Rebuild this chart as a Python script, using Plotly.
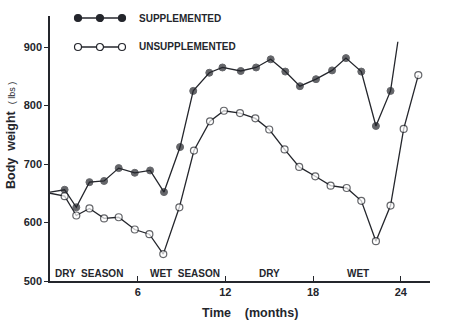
import plotly.graph_objects as go

# Data (months, body weight lbs)
sup_months = [0, 1.0, 1.8, 2.7, 3.7, 4.7, 5.8, 6.85, 7.8, 8.9, 9.8, 10.9, 11.8,
              13.05, 14.1, 15.1, 16.1, 17.1, 18.2, 19.3, 20.25, 21.3, 22.3, 23.3, 23.8]
sup_weight = [652, 656, 626, 669, 671, 693, 685, 689, 652, 729, 825, 856, 865,
              859, 865, 879, 858, 833, 845, 860, 881, 858, 765, 825, 909]

uns_months = [0, 1.0, 1.8, 2.7, 3.7, 4.7, 5.8, 6.8, 7.75, 8.85, 9.85, 10.95, 11.9,
              13.0, 14.05, 15.0, 16.05, 17.05, 18.15, 19.2, 20.3, 21.3, 22.3, 23.3, 24.2, 25.2]
uns_weight = [650, 645, 612, 624, 607, 609, 588, 580, 546, 626, 723, 773, 791,
              787, 778, 759, 725, 695, 679, 663, 659, 637, 568, 629, 760, 852]

season_labels = ["DRY  SEASON", "WET  SEASON", "DRY", "WET"]
season_pos = [2.65, 9.25, 15.05, 21.1]

x_ticks = [6, 12, 18, 24]
y_ticks = [500, 600, 700, 800, 900]

INK = "#24262c"
FONT = "Liberation Sans, Arial, sans-serif"

sup_sizes = [0] + [7] * (len(sup_months) - 2) + [0]
uns_sizes = [0] + [7] * (len(uns_months) - 1)

fig = go.Figure()
fig.add_trace(go.Scatter(
    x=sup_months, y=sup_weight, mode="lines+markers",
    line=dict(color=INK, width=1.3),
    marker=dict(size=sup_sizes, color=INK, line=dict(color=INK, width=1)),
    showlegend=False, cliponaxis=False))
fig.add_trace(go.Scatter(
    x=uns_months, y=uns_weight, mode="lines+markers",
    line=dict(color=INK, width=1.3),
    marker=dict(size=uns_sizes, color="white", line=dict(color=INK, width=1.2)),
    showlegend=False, cliponaxis=False))

# Legend drawn with shapes (paper coords)
def px_to_paper_x(px):
    return (px - 50) / 380.0

def py_to_paper_y(py):
    return (281 - py) / 265.0

shapes = []
for py, fill in [(18, INK), (47, "white")]:
    yy = py_to_paper_y(py)
    shapes.append(dict(type="line", xref="paper", yref="paper",
                       x0=px_to_paper_x(78), x1=px_to_paper_x(122), y0=yy, y1=yy,
                       line=dict(color=INK, width=1.3)))
    for px in [78, 100, 122]:
        shapes.append(dict(type="circle", xref="paper", yref="paper",
                           xsizemode="pixel", ysizemode="pixel",
                           xanchor=px_to_paper_x(px), yanchor=yy,
                           x0=-3.5, x1=3.5, y0=-3.5, y1=3.5,
                           fillcolor=fill, line=dict(color=INK, width=1.2)))

annotations = [
    dict(text="<b>SUPPLEMENTED</b>", xref="paper", yref="paper",
         x=px_to_paper_x(137), y=py_to_paper_y(18), xanchor="left", yanchor="middle",
         showarrow=False, font=dict(size=10, color=INK, family=FONT)),
    dict(text="<b>UNSUPPLEMENTED</b>", xref="paper", yref="paper",
         x=px_to_paper_x(137), y=py_to_paper_y(47), xanchor="left", yanchor="middle",
         showarrow=False, font=dict(size=10, color=INK, family=FONT)),
    dict(text="<b>Body  weight</b>  <span style='font-size:9px'>( lbs )</span>",
         xref="paper", yref="paper", x=px_to_paper_x(11), y=py_to_paper_y(136),
         textangle=-90, showarrow=False, xanchor="center", yanchor="middle",
         font=dict(size=12.5, color=INK, family=FONT)),
    dict(text="<b>Time    (months)</b>", xref="paper", yref="paper",
         x=px_to_paper_x(250), y=py_to_paper_y(313), showarrow=False,
         xanchor="center", yanchor="middle",
         font=dict(size=12.5, color=INK, family=FONT)),
]
for lab, pos in zip(season_labels, season_pos):
    annotations.append(dict(text="<b>" + lab + "</b>", x=pos, xref="x", yref="paper",
                            y=py_to_paper_y(273), showarrow=False,
                            xanchor="center", yanchor="middle",
                            font=dict(size=10, color=INK, family=FONT)))

fig.update_layout(
    width=450, height=326,
    margin=dict(l=50, r=20, t=16, b=45),
    paper_bgcolor="white", plot_bgcolor="white",
    shapes=shapes, annotations=annotations,
    font=dict(family=FONT, color=INK),
    xaxis=dict(range=[0, 26], tickvals=x_ticks, ticktext=["<b>%d</b>" % v for v in x_ticks],
               ticks="inside", ticklen=5, tickwidth=1, tickcolor=INK,
               showline=True, linecolor=INK, linewidth=1.5,
               showgrid=False, zeroline=False,
               tickfont=dict(size=11, color=INK, family=FONT)),
    yaxis=dict(range=[500, 953], tickvals=y_ticks, ticktext=["<b>%d</b>" % v for v in y_ticks],
               ticks="outside", ticklen=4, tickwidth=1, tickcolor=INK,
               showline=True, linecolor=INK, linewidth=1.5,
               showgrid=False, zeroline=False,
               tickfont=dict(size=11, color=INK, family=FONT)),
)

fig.write_html("out.html")
